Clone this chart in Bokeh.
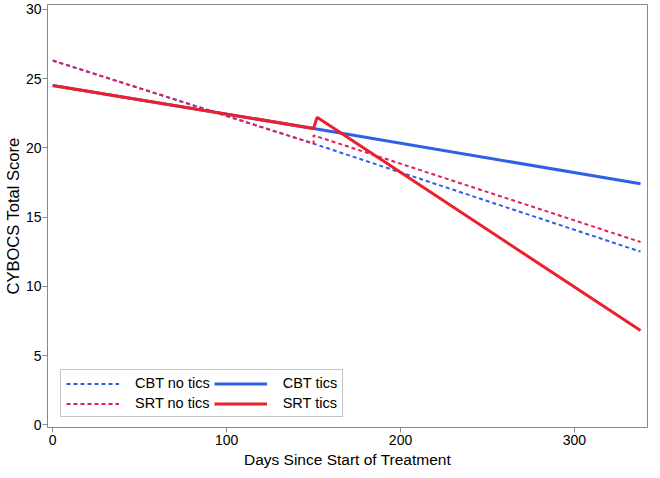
from bokeh.plotting import figure
from bokeh.models import Range1d, Legend, LegendItem, FixedTicker
from bokeh.embed import file_html
from bokeh.resources import INLINE

# Data
cbt_notics_x = [0, 150, 338]
cbt_notics_y = [26.3, 20.3, 12.5]
srt_notics_x = [0, 150, 150, 338]
srt_notics_y = [26.3, 20.3, 20.9, 13.2]
cbt_tics_x = [0, 150, 338]
cbt_tics_y = [24.5, 21.4, 17.4]
srt_tics_x = [0, 150, 152, 338]
srt_tics_y = [24.5, 21.4, 22.2, 6.8]

x_ticks = [0, 100, 200, 300]
y_ticks = [0, 5, 10, 15, 20, 25, 30]

BLUE = "#2f5fe6"
RED = "#ee1f2b"
PINK = "#e0205c"
GRAY = "#8a8a8a"
FONT = "Liberation Sans"

p = figure(width=648, height=470, output_backend="svg", toolbar_location=None,
           x_range=Range1d(-3, 342), y_range=Range1d(-0.2, 30.35),
           min_border_left=42, min_border_top=4, min_border_right=1, min_border_bottom=40)

p.xgrid.visible = False
p.ygrid.visible = False
p.outline_line_color = GRAY
p.outline_line_width = 1
p.background_fill_color = "white"
p.border_fill_color = "white"

for ax, ticks in ((p.xaxis[0], x_ticks), (p.yaxis[0], y_ticks)):
    ax.ticker = FixedTicker(ticks=ticks)
    ax.axis_line_color = GRAY
    ax.major_tick_line_color = GRAY
    ax.major_tick_out = 5
    ax.major_tick_in = 0
    ax.minor_tick_line_color = None
    ax.major_label_text_font = FONT
    ax.major_label_text_font_size = "14px"
    ax.major_label_text_color = "black"
    ax.axis_label_text_font = FONT
    ax.axis_label_text_font_style = "normal"
    ax.axis_label_text_color = "black"

p.xaxis.axis_label = "Days Since Start of Treatment"
p.yaxis.axis_label = "CYBOCS Total Score"
p.xaxis.axis_label_text_font_size = "15.5px"
p.yaxis.axis_label_text_font_size = "16.5px"
p.xaxis.major_label_standoff = 2
p.xaxis.axis_label_standoff = 3
p.yaxis.major_label_standoff = 1
p.yaxis.axis_label_standoff = 1

r1 = p.line(cbt_notics_x, cbt_notics_y, line_color=BLUE, line_width=2, line_dash="4 3")
r2 = p.line(srt_notics_x, srt_notics_y, line_color=PINK, line_width=2, line_dash="4 3")
r3 = p.line(cbt_tics_x, cbt_tics_y, line_color=BLUE, line_width=3)
r4 = p.line(srt_tics_x, srt_tics_y, line_color=RED, line_width=3)

legend = Legend(items=[
    LegendItem(label="CBT no tics", renderers=[r1]),
    LegendItem(label="SRT no tics", renderers=[r2]),
    LegendItem(label="CBT tics", renderers=[r3]),
    LegendItem(label="SRT tics", renderers=[r4]),
], nrows=2, location=(13, 10))
legend.label_text_font = FONT
legend.label_text_font_size = "14.5px"
legend.label_text_color = "black"
legend.glyph_width = 53
legend.glyph_height = 15
legend.label_standoff = 16
legend.spacing = 4
legend.padding = 5
legend.margin = 0
legend.border_line_color = GRAY
legend.border_line_width = 1
legend.background_fill_color = "white"
legend.background_fill_alpha = 1
p.add_layout(legend, "center")

open("out.html", "w").write(file_html(p, INLINE))
